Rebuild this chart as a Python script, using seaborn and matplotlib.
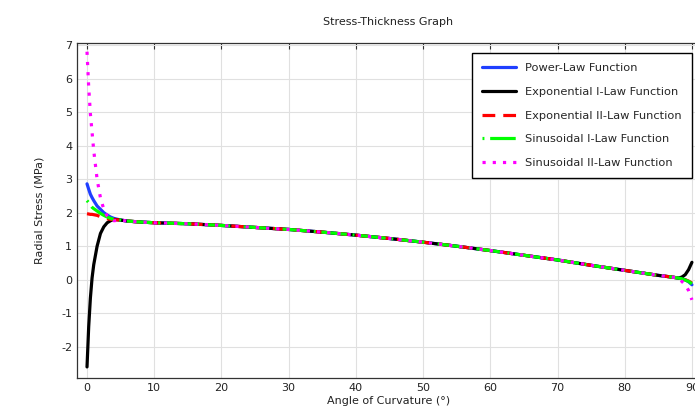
import matplotlib
matplotlib.use("Agg")
import matplotlib.pyplot as plt
import numpy as np
import pandas as pd
import seaborn as sns

# angle of curvature (degrees), denser near both ends
angle = [0, 0.25, 0.5, 0.75, 1, 1.5, 2, 2.5, 3, 3.5, 4, 5, 6, 8, 10, 15, 20, 25,
         30, 35, 40, 45, 50, 55, 60, 65, 70, 75, 80, 85, 87, 88, 88.5, 89, 89.5, 90]

# shared middle part of all curves (x = 5 .. 88)
middle = [1.78, 1.75, 1.72, 1.70, 1.67, 1.62, 1.56, 1.50, 1.42, 1.33, 1.23, 1.12,
          1.00, 0.87, 0.73, 0.59, 0.43, 0.28, 0.13, 0.08, 0.05]

power_law = [2.86, 2.70, 2.55, 2.45, 2.36, 2.20, 2.10, 2.00, 1.93, 1.87, 1.83] + middle + [0.03, 0.00, -0.06, -0.15]
exp_one = [-2.60, -1.40, -0.55, 0.05, 0.45, 1.00, 1.38, 1.58, 1.70, 1.76, 1.80] + middle + [0.08, 0.15, 0.30, 0.52]
exp_two = [1.97, 1.96, 1.95, 1.95, 1.94, 1.92, 1.88, 1.85, 1.82, 1.80, 1.79] + middle + [0.02, 0.00, -0.04, -0.10]
sin_one = [2.36, 2.30, 2.22, 2.16, 2.12, 2.05, 1.98, 1.92, 1.87, 1.83, 1.80] + middle + [0.03, -0.01, -0.05, -0.12]
sin_two = [6.80, 5.75, 4.95, 4.40, 3.85, 3.00, 2.44, 2.10, 1.90, 1.80, 1.76] + middle + [-0.05, -0.15, -0.32, -0.60]

labels = ["Power-Law Function", "Exponential I-Law Function", "Exponential II-Law Function",
          "Sinusoidal I-Law Function", "Sinusoidal II-Law Function"]
colors = ["#1f3fff", "#000000", "#ff0000", "#00ff00", "#ff00ff"]
dashes = [(None, None), (None, None), (4, 2.5), (0.6, 1.8, 8, 1.8), (1, 2.2)]

df = pd.DataFrame({"angle": angle})
for lab, vals in zip(labels, [power_law, exp_one, exp_two, sin_one, sin_two]):
    df[lab] = vals
df_long = df.melt(id_vars="angle", var_name="curve", value_name="stress")

sns.set_style("whitegrid")
plt.rcParams['font.family'] = ['DejaVu Sans']
plt.rcParams['axes.unicode_minus'] = False

fig = plt.figure(figsize=(6.95, 4.12), dpi=100)
# right edge of the axes lies just outside the picture, like the reference
ax = fig.add_axes([77 / 695, 1 - 378 / 412, (700 - 77) / 695, (378 - 43) / 412])

for lab, col, ds in zip(labels, colors, dashes):
    sub = df_long[df_long["curve"] == lab]
    line, = ax.plot(sub["angle"], sub["stress"], color=col, lw=2.3, label=lab)
    if ds[0] is not None:
        line.set_dashes(ds)

ax.set_xlim(-1.49, 91.2)
ax.set_ylim(-2.93, 7.06)
ax.set_xticks(np.arange(0, 91, 10))
ax.set_yticks(np.arange(-2, 8, 1))
ax.grid(True, color="#e0e0e0", lw=0.8)
ax.tick_params(direction="in", length=4, width=0.8, top=True, right=False,
               labelsize=8, colors="#333333", labelcolor="#222222")
for s in ax.spines.values():
    s.set_color("#333333")
    s.set_linewidth(0.9)

ax.set_title("Stress-Thickness Graph", fontsize=8, pad=13, color="#222222")
ax.set_xlabel("Angle of Curvature (°)", fontsize=8, labelpad=2, color="#222222")
ax.set_ylabel("Radial Stress (MPa)", fontsize=8, labelpad=12, color="#222222")

# legend box: x 477..692, y 53..178 in pixels
leg = ax.legend(loc="upper right", bbox_to_anchor=((692 - 77) / 623, (378 - 53) / 335),
                borderaxespad=0, fontsize=8.2,
                frameon=True, fancybox=False, edgecolor="#000000", framealpha=1,
                handlelength=3.0, labelspacing=1.2, borderpad=0.9, shadow=False)
leg.get_frame().set_linewidth(1.0)

fig.savefig("out.png", dpi=100)
